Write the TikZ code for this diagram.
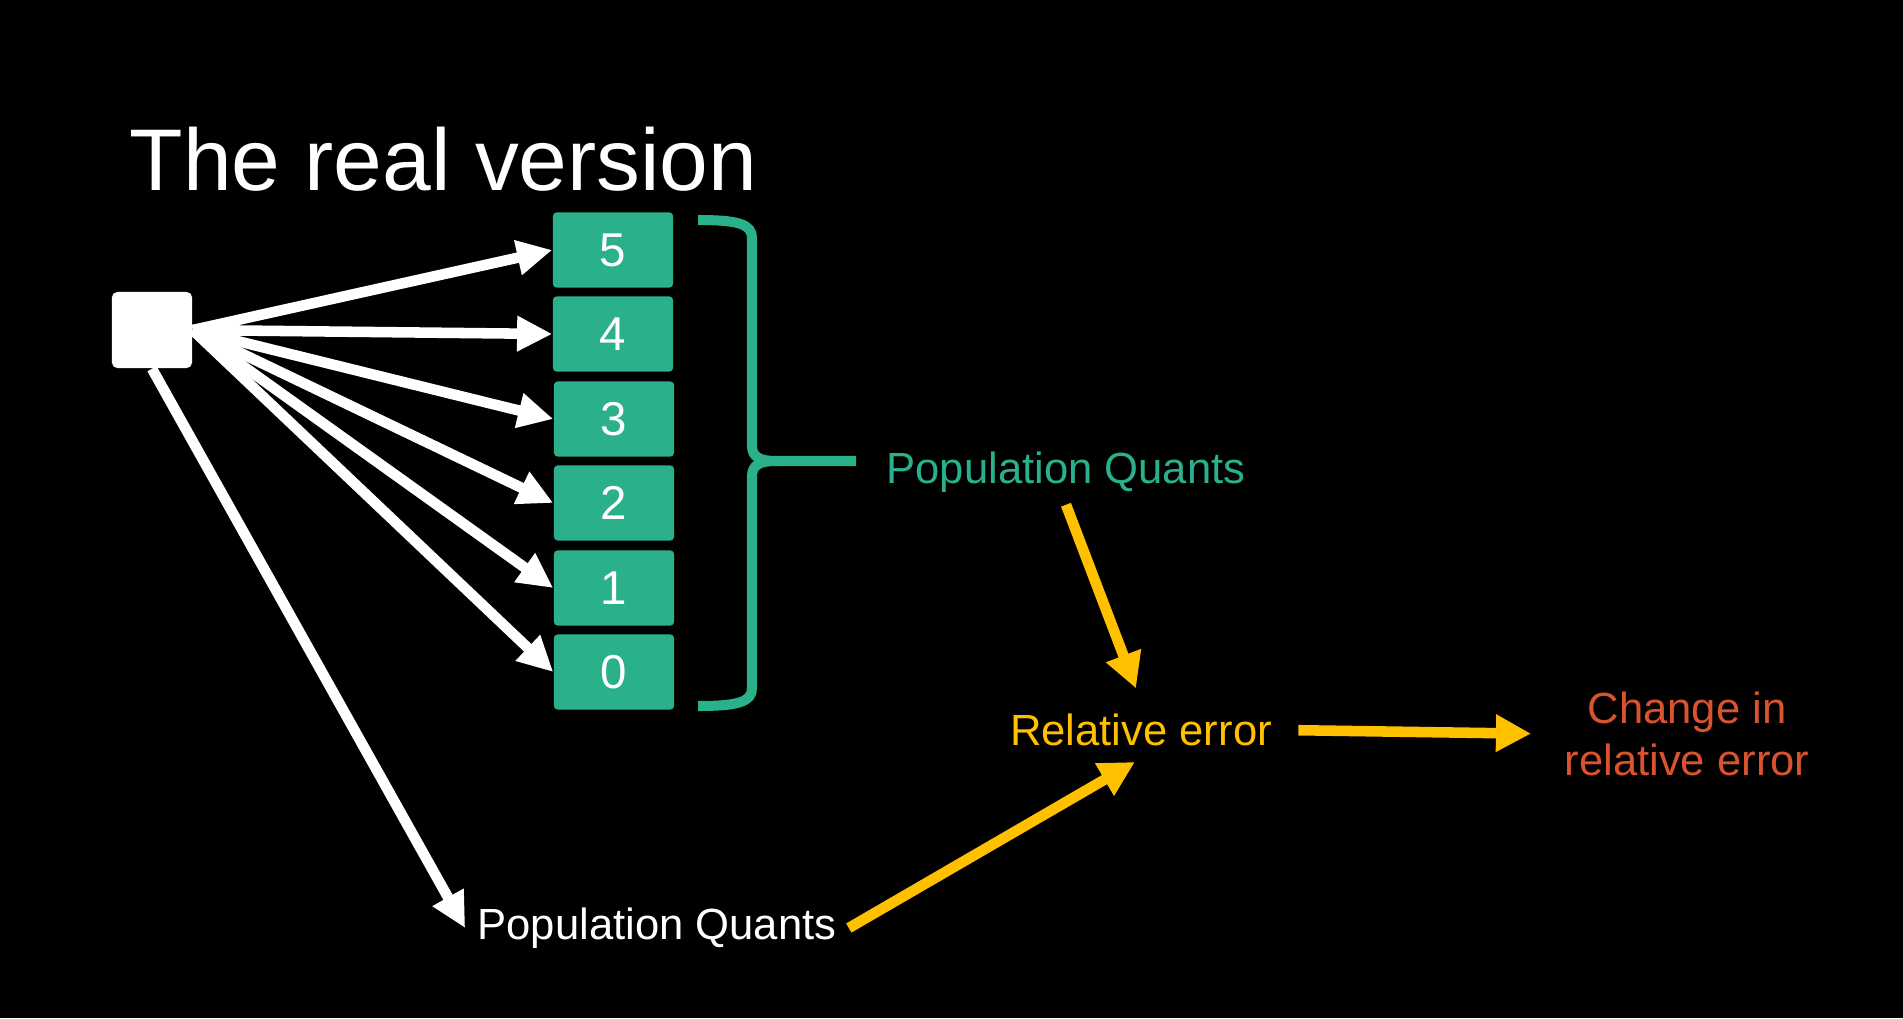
\documentclass[tikz,border=0pt]{standalone}
\usepackage{fontspec}
\setmainfont{Liberation Sans}
\usetikzlibrary{arrows.meta}
\definecolor{quantgreen}{HTML}{2BB08C}
\definecolor{erryellow}{HTML}{FFC000}
\definecolor{changered}{HTML}{D9532F}
\begin{document}
\begin{tikzpicture}[x=0.01cm, y=-0.01cm,
    box/.style={rectangle, fill=quantgreen, rounded corners=1pt, minimum width=1.2cm, minimum height=0.75cm, text=white, font=\fontsize{13.5}{16}\selectfont},
    txt/.style={font=\fontsize{12.4}{15}\selectfont, align=center},
    warrow/.style={-{Triangle[length=10pt,width=9.5pt]}, white, line width=3pt},
    yarrow/.style={-{Triangle[length=10pt,width=10pt]}, erryellow, line width=3pt}
]
    % Background
    \fill[black] (0,0) rectangle (1903,1018);

    % Title
    \node[anchor=base west, inner sep=0pt, text=white, font=\fontsize{24.9}{30}\selectfont] (title) at (129,190) {The real version};

    % Source
    \node[rectangle, fill=white, rounded corners=1.5pt, minimum width=0.8cm, minimum height=0.76cm] (src) at (152,330) {};

    % Quants
    \node[box] (b5) at (613,250) {5};
    \node[box] (b4) at (613,334) {4};
    \node[box] (b3) at (614,419) {3};
    \node[box] (b2) at (614,503) {2};
    \node[box] (b1) at (614,588) {1};
    \node[box] (b0) at (614,672) {0};

    % Brace
    \draw[quantgreen, line width=2.85pt] (698,220) .. controls (738,220) and (752,224) .. (752,238) -- (752,446) .. controls (752,457) and (760,461) .. (776,461) -- (856,461);
    \draw[quantgreen, line width=2.85pt] (698,706) .. controls (738,706) and (752,702) .. (752,688) -- (752,476) .. controls (752,465) and (760,461) .. (776,461);

    % Labels
    \node[txt, text=quantgreen] (pqg) at (1066,472) {Population Quants};
    \node[txt, text=erryellow] (rel) at (1141,730) {Relative error};
    \node[txt, text=changered] (chg) at (1687,734) {Change in\\relative error};
    \node[txt, text=white] (pqw) at (657,928) {Population Quants};

    % Arrows
    \draw[warrow] (src.east) -- (b5.west);
    \draw[warrow] (src.east) -- (b4.west);
    \draw[warrow] (src.east) -- (b3.west);
    \draw[warrow] (src.east) -- (b2.west);
    \draw[warrow] (src.east) -- (b1.west);
    \draw[warrow] (src.east) -- (b0.west);
    \draw[warrow] (src.south) -- (pqw.west);
    \draw[yarrow, shorten >=4pt] (pqg.south) -- (rel.north);
    \draw[yarrow, shorten <=4pt, shorten >=6pt] (rel.east) -- (chg.west);
    \draw[yarrow, shorten >=2pt] (pqw.east) -- (rel.south);

\end{tikzpicture}
\end{document}
